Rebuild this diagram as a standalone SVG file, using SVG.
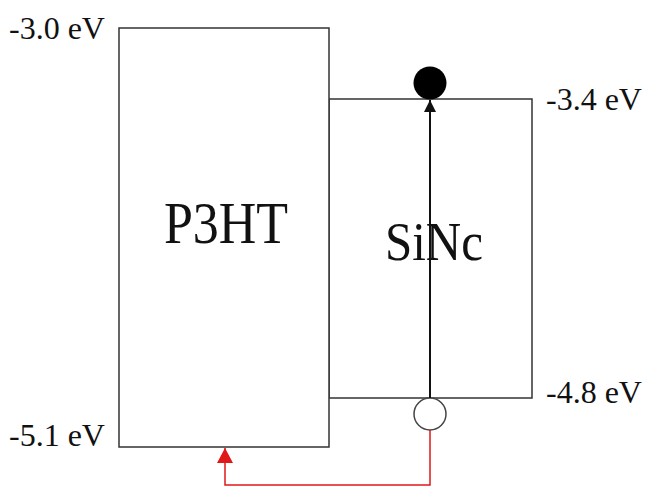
<svg xmlns="http://www.w3.org/2000/svg" width="647" height="487" viewBox="0 0 647 487">
<style>
.box{fill:#fff;stroke:#333;stroke-width:1.5}
.lbl{font-family:"Liberation Serif","Times New Roman",serif;font-size:32px;fill:#111}
.big{font-family:"Liberation Serif","Times New Roman",serif;fill:#111;text-anchor:middle}
</style>
<defs>
<marker id="ab" markerWidth="12" markerHeight="14" refX="12" refY="6" orient="auto" markerUnits="userSpaceOnUse" viewBox="0 0 12 12">
<path d="M0,0 L12,6 L0,12 z" fill="#111"/>
</marker>
<marker id="ar" markerWidth="15" markerHeight="16" refX="15" refY="8" orient="auto" markerUnits="userSpaceOnUse" viewBox="0 0 15 16">
<path d="M0,0 L15,8 L0,16 z" fill="#e01818"/>
</marker>
</defs>
<rect width="647" height="487" fill="#fff"/>
<g id="sinc">
<rect class="box" x="329" y="99" width="203" height="299"/>
<text class="big" font-size="49" transform="translate(434,260) scale(1,1.13)">SiNc</text>
</g>
<g id="p3ht">
<rect class="box" x="119" y="28" width="210" height="419"/>
<text class="big" font-size="52" transform="translate(226,243) scale(1,1.12)">P3HT</text>
</g>
<g id="labels">
<text class="lbl" x="9" y="39">-3.0 eV</text>
<text class="lbl" x="546" y="110">-3.4 eV</text>
<text class="lbl" x="546" y="403">-4.8 eV</text>
<text class="lbl" x="9" y="446">-5.1 eV</text>
</g>
<g id="electron">
<circle cx="430" cy="83" r="16.5" fill="#000"/>
</g>
<g id="hole">
<circle cx="430" cy="414" r="16" fill="#fff" stroke="#444" stroke-width="1.5"/>
</g>
<g id="connectors">
<line x1="430" y1="398" x2="430" y2="100" stroke="#111" stroke-width="2" marker-end="url(#ab)"/>
<polyline points="430,430 430,485 225,485 225,448" fill="none" stroke="#e01818" stroke-width="1.5" marker-end="url(#ar)"/>
</g>
</svg>
